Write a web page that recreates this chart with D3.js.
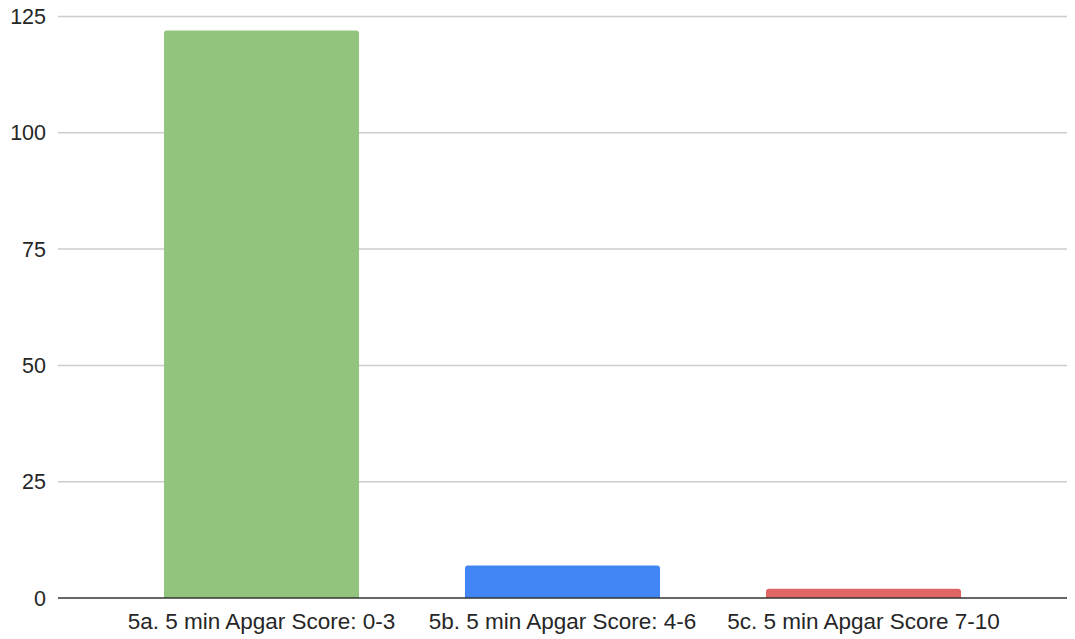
<!DOCTYPE html>
<html>
<head>
<meta charset="utf-8">
<script src="https://cdn.jsdelivr.net/npm/d3@7"></script>
<style>
  body { margin: 0; background: #fff; }
  text { font-family: "Liberation Sans", Arial, sans-serif; fill: #262626; }
</style>
</head>
<body>
<div id="chart"></div>
<script>
const categories = ["5a. 5 min Apgar Score: 0-3", "5b. 5 min Apgar Score: 4-6", "5c. 5 min Apgar Score 7-10"];
const values = [122, 7, 2];
const colours = ["#93c47d", "#4285f4", "#e06666"];
const yTicks = [0, 25, 50, 75, 100, 125];

const W = 1075, H = 639;
const svg = d3.select("#chart").append("svg").attr("width", W).attr("height", H);

const x = d3.scaleBand().domain(categories).range([111, 1014])
  .paddingInner(0.352).paddingOuter(0.176);
const y = d3.scaleLinear().domain([0, 125]).range([598, 16.5]);

// gridlines
svg.append("g").selectAll("line").data(yTicks.filter(d => d > 0)).enter().append("line")
  .attr("x1", 58).attr("x2", 1067)
  .attr("y1", d => y(d)).attr("y2", d => y(d))
  .attr("stroke", "#cccccc").attr("stroke-width", 1.5);

// y labels
svg.append("g").selectAll("text").data(yTicks).enter().append("text")
  .attr("x", 46).attr("y", d => y(d)).attr("dy", "0.35em")
  .attr("text-anchor", "end").attr("font-size", 21.5)
  .text(d => d);

// bars with rounded tops
function barPath(d, i) {
  const x0 = x(categories[i]), w = x.bandwidth();
  const top = y(d), base = y(0), r = Math.min(3, base - top);
  return "M" + x0 + "," + base + "V" + (top + r) +
    "Q" + x0 + "," + top + " " + (x0 + r) + "," + top +
    "H" + (x0 + w - r) +
    "Q" + (x0 + w) + "," + top + " " + (x0 + w) + "," + (top + r) +
    "V" + base + "Z";
}
svg.append("g").selectAll("path").data(values).enter().append("path")
  .attr("d", barPath)
  .attr("fill", (d, i) => colours[i]);

// baseline
svg.append("line").attr("x1", 58).attr("x2", 1067)
  .attr("y1", y(0)).attr("y2", y(0))
  .attr("stroke", "#333").attr("stroke-width", 1.5);

// x labels
svg.append("g").selectAll("text").data(categories).enter().append("text")
  .attr("x", d => x(d) + x.bandwidth() / 2).attr("y", 621).attr("dy", "0.35em")
  .attr("text-anchor", "middle").attr("font-size", 22.5)
  .text(d => d);
</script>
</body>
</html>
